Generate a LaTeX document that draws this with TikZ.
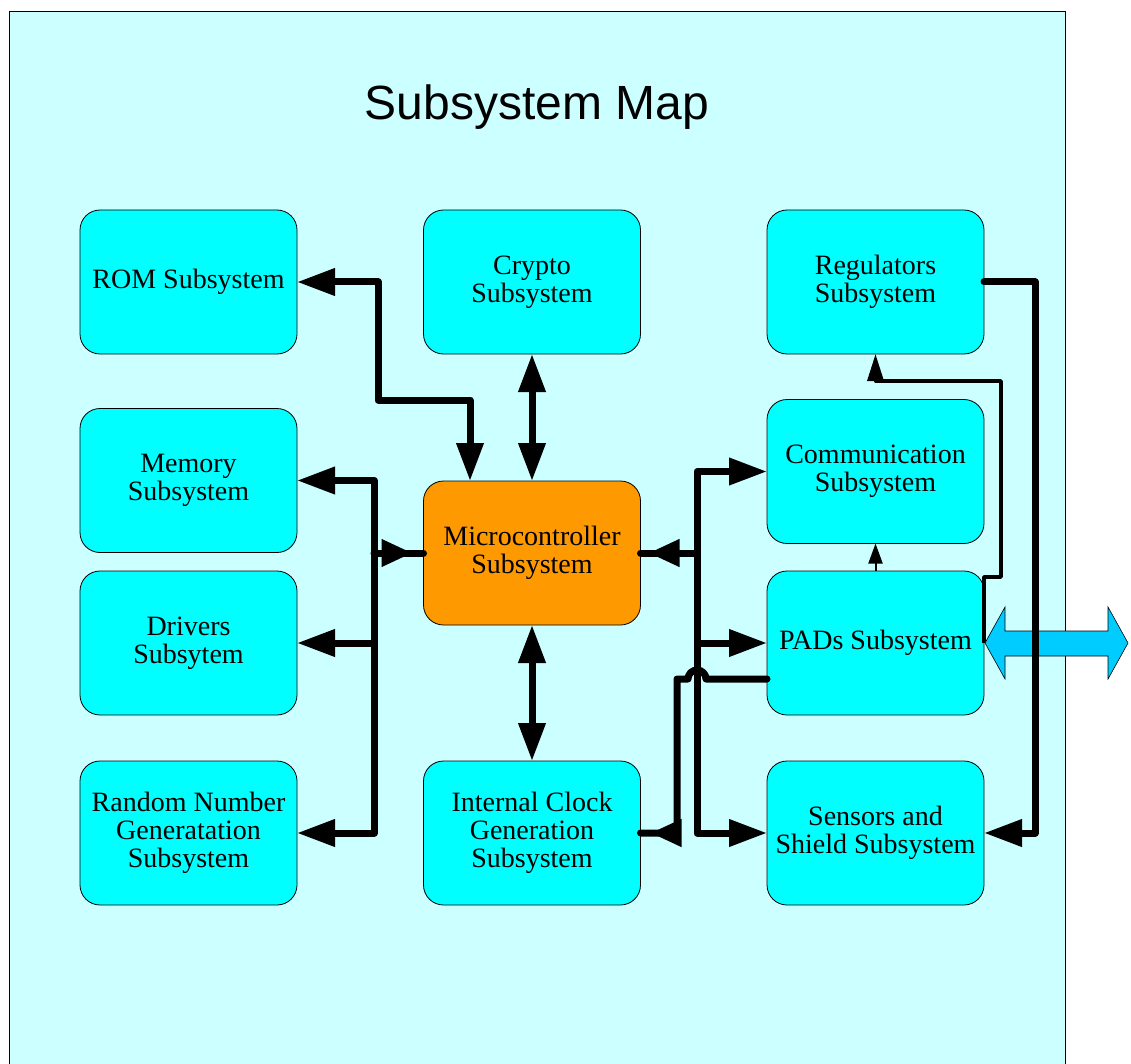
\documentclass[tikz,border=0pt]{standalone}
\usepackage{fontspec}
\setmainfont{Liberation Serif}
\newfontfamily\titlefont{Liberation Sans}
\usetikzlibrary{arrows.meta,calc}
\definecolor{panelc}{HTML}{CCFFFF}
\definecolor{boxc}{HTML}{00FFFF}
\definecolor{mcuc}{HTML}{FF9900}
\definecolor{extc}{HTML}{00CCFF}
\tikzset{
  big/.tip={Triangle[length=38pt,width=26pt]},
  mid/.tip={Triangle[length=31pt,width=26pt]},
  box/.style={draw=black,line width=0.8pt,fill=boxc,rounded corners=20pt,
    minimum width=217pt,minimum height=144pt,inner sep=0pt,outer sep=0pt,
    align=center,font=\fontsize{28pt}{28pt}\selectfont},
  bus/.style={line width=7pt,line join=round},
}
\begin{document}
\begin{tikzpicture}[x=1pt,y=-1pt]
\useasboundingbox (0,0) rectangle (1131,1064);
% panel
\filldraw[fill=panelc,draw=black,line width=0.8pt] (9,11) rectangle (1065,1080);
\node[font=\titlefont\fontsize{48pt}{48pt}\selectfont] (title) at (537,107) {Subsystem Map};
% boxes
\node[box] (rom)    at (188.5,282)   {ROM Subsystem};
\node[box] (crypto) at (532,282)     {Crypto\\Subsystem};
\node[box] (reg)    at (875.5,282)   {Regulators\\Subsystem};
\node[box] (mem)    at (188.5,480.5) {Memory\\Subsystem};
\node[box,fill=mcuc] (mcu) at (532,553) {Microcontroller\\Subsystem};
\node[box] (comm)   at (875.5,471.5) {Communication\\Subsystem};
\node[box] (drv)    at (188.5,643)   {Drivers\\Subsytem};
\node[box] (pads)   at (875.5,643)   {PADs Subsystem};
\node[box] (rand)   at (188.5,833)   {Random Number\\Generatation\\Subsystem};
\node[box] (clk)    at (532,833)     {Internal Clock\\Generation\\Subsystem};
\node[box] (sens)   at (875.5,833)   {Sensors and\\Shield Subsystem};
% ROM <-> MCU
\draw[bus,{big}-{big}] (rom.east) -- (378,282) -- (378,400) -- (470,400) -- ($(mcu.north)+(-62,0)$);
% Crypto <-> MCU, MCU <-> Clock
\draw[bus,{big}-{big}] (crypto.south) -- (mcu.north);
\draw[bus,{big}-{big}] (mcu.south) -- (clk.north);
% left bus
\draw[bus,{big}-{big}] (mem.east) -- (374,480.5) -- (374,833) -- (rand.east);
\draw[bus,-{big}] (374,643) -- (drv.east);
\draw[bus,line cap=round] (374,553) -- (mcu.west);
\draw[bus,-{mid}] (374,553) -- ($(mcu.west)+(-11,0)$);
% right bus
\draw[bus,{big}-{big}] (comm.west) -- (697,471.5) -- (697,833) -- (sens.west);
\draw[bus,-{big}] (697,643) -- (pads.west);
\draw[bus,line cap=round] (mcu.east) -- (697,553);
\draw[bus,-{mid}] (697,553) -- ($(mcu.east)+(8,0)$);
% PADs -> Clock with jump
\draw[bus,line cap=round] ($(pads.west)+(0,36)$) -- (706,679)
  arc[start angle=0,end angle=180,radius=9pt] -- (677,679) -- (677,833) -- (clk.east);
\draw[bus,-{mid}] (677,833) -- ($(clk.east)+(10,0)$);
% thin arrows
\draw[line width=2pt,-{Triangle[length=20pt,width=14pt]}] (pads.north) -- (comm.south);
\draw[line width=3.5pt,line join=round,-{Triangle[length=27pt,width=16pt]}]
  (pads.east) -- (984,577) -- (1001,577) -- (1001,381) -- (875.5,381) -- (reg.south);
% external double arrow
\filldraw[fill=extc,draw=black,line width=0.6pt]
  ($(pads.east)+(1,0)$) -- (1005,607) -- (1005,631) -- (1108,631) -- (1108,607) -- (1128,643)
  -- (1108,679) -- (1108,656) -- (1005,656) -- (1005,679) -- cycle;
% Regulators -> Sensors
\draw[bus,line cap=round,-{big}] (reg.east) -- (1035,282) -- (1035,833) -- (sens.east);
\end{tikzpicture}
\end{document}
